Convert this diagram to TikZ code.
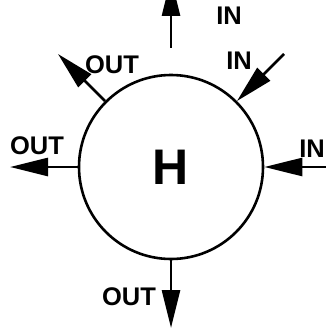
\documentclass[tikz,border=0pt]{standalone}
\usepackage{fontspec}
\setmainfont{Liberation Sans}
\usetikzlibrary{arrows.meta}

\begin{document}
\begin{tikzpicture}[x=1pt, y=-1pt,
  ring/.style={draw, circle, line width=2.6pt, minimum size=184pt, inner sep=0pt,
               font=\fontsize{50}{50}\selectfont\bfseries},
  lbl/.style={inner sep=0pt, font=\fontsize{25.5}{25.5}\selectfont\bfseries},
  arr/.style={-{Triangle[length=38pt, width=18pt]}, line width=2.6pt}
]
  \useasboundingbox (0,0) rectangle (326,329);
  \clip (0,0) rectangle (326,329);

  % Circle
  \node[ring] (core) at (171,167) {H};

  % Free arrow ends
  \coordinate (topstart) at (171,48);
  \coordinate (toptip) at (171,-22);
  \coordinate (nestart) at (284,54);
  \coordinate (nwtip) at (58,54);
  \coordinate (wtip) at (10,167);
  \coordinate (estart) at (332,167);
  \coordinate (stip) at (171,328);

  % Labels
  \node[lbl] (intop) at (229,16) {IN};
  \node[lbl] (inne) at (239,61) {IN};
  \node[lbl] (ine) at (312,149) {IN};
  \node[lbl] (outnw) at (112,65) {OUT};
  \node[lbl] (outw) at (37,146) {OUT};
  \node[lbl] (outs) at (129,297) {OUT};

  % Arrows
  \draw[arr] (topstart) -- (toptip);
  \draw[arr] (nestart) -- (core.45);
  \draw[arr] (estart) -- (core.east);
  \draw[arr] (core.135) -- (nwtip);
  \draw[arr] (core.west) -- (wtip);
  \draw[arr] (core.south) -- (stip);
\end{tikzpicture}
\end{document}
